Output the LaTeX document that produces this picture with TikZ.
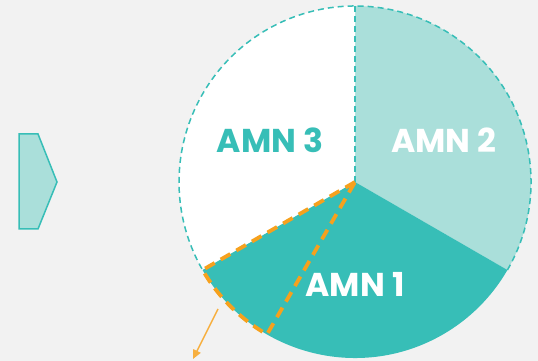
\documentclass[tikz,border=0pt]{standalone}
\usepackage{fontspec}
\setmainfont{Poppins}
\usetikzlibrary{arrows.meta}

\definecolor{amndark}{HTML}{37BEB7}
\definecolor{amnlight}{HTML}{AADFDA}
\definecolor{amnorange}{HTML}{F6A11D}
\definecolor{bggray}{HTML}{F2F2F2}

\tikzset{
  amnlabel/.style={font=\fontsize{33}{38}\selectfont\bfseries},
  tealdash/.style={amndark, line width=1.5pt, dash pattern=on 6pt off 4pt},
  orangedash/.style={amnorange, line width=3.8pt, dash pattern=on 11pt off 7pt}
}

\begin{document}
\begin{tikzpicture}[x=1pt,y=1pt]
%\draw [lightgray](0,0) grid (538, 361);
\useasboundingbox (0,0) rectangle (538,361);
\fill [bggray] (0,0) rectangle (538,361);

\coordinate (c) at (355,179);

% pie
\fill [amnlight] (c) -- ++(-30:176) arc [start angle=-30, end angle=90, radius=176] -- cycle; % AMN 2
\fill [white] (c) -- ++(90:176) arc [start angle=90, end angle=210, radius=176] -- cycle; % AMN 3
\fill [amndark] (c) -- ++(210:176) arc [start angle=210, end angle=330, radius=176] -- cycle; % AMN 1
\draw [tealdash] (c) ++(-30:176) arc [start angle=-30, end angle=210, radius=176];
\draw [tealdash] (c) -- ++(90:176);

% slice
\draw [orangedash] (c) -- ++(210:176) arc [start angle=210, end angle=240, radius=176] -- cycle;

% left tab
\draw [amndark, fill=amnlight, line width=1.5pt] (19,132) -- (38,132) -- (57,179) -- (38,227) -- (19,227) -- cycle;

\node [amnlabel, text=amndark] (amn3) at (270,221) {AMN 3};
\node [amnlabel, text=white] (amn2) at (444,221) {AMN 2};
\node [amnlabel, text=white] (amn1) at (355,77) {AMN 1};

\coordinate (out) at (218,52);
\coordinate (outtip) at (193,2);
\draw [amnorange!85, line width=1.5pt, -{Triangle[length=9pt,width=8pt]}] (out) -- (outtip);

\end{tikzpicture}
\end{document}
